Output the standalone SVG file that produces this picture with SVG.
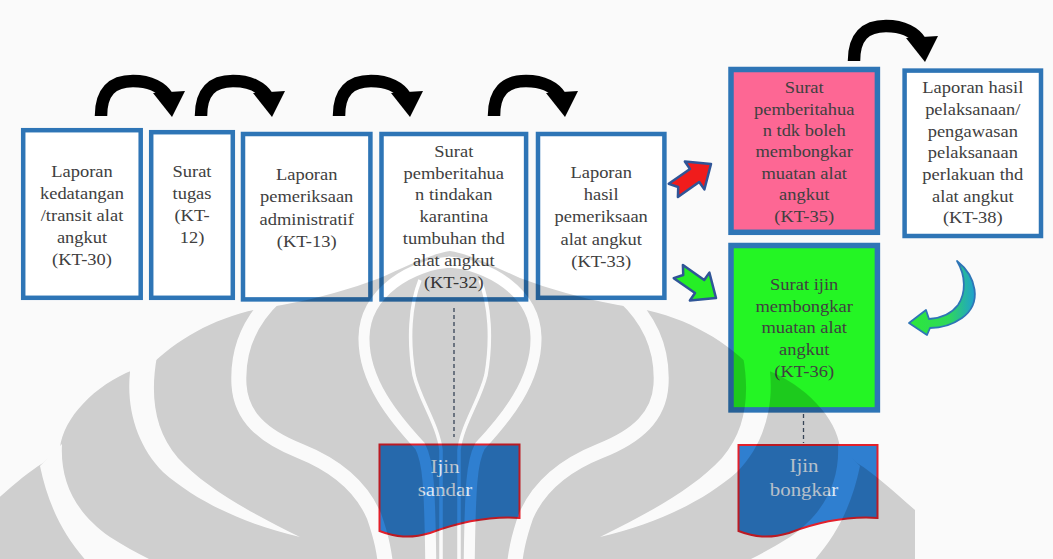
<svg xmlns="http://www.w3.org/2000/svg" xmlns:xlink="http://www.w3.org/1999/xlink" width="1053" height="559" viewBox="0 0 1053 559">
  <style>
    .box { fill:#ffffff; stroke:#2e75b6; stroke-width:4.5; }
    .t { font-size:16.5px; fill:#404040; text-anchor:middle; }
    .dt { font-size:19px; fill:#dde8f5; text-anchor:middle; }
    .doc { fill:#2f7fd0; stroke:#e3202b; stroke-width:2; }
    .dash { fill:none; stroke:#44546a; stroke-width:1.3; stroke-dasharray:4 3; }
    .blk { fill:#f01c1c; stroke:#2f5597; stroke-width:2.5; stroke-linejoin:round; }
    .blkg { fill:#26ee26; stroke:#2f5597; stroke-width:2.5; stroke-linejoin:round; }
  </style>
  <defs>
    <!-- black hop arrow: leg bottom centre at the origin -->
    <g id="hop">
      <path d="M0,0 C0,-24 11,-35 32,-35 C50,-35 61,-28 66,-20" fill="none" stroke="#000" stroke-width="12.5"/>
      <polygon points="52,-23 84,-25 71,1" fill="#000"/>
    </g>
    <!-- notched block arrow, tip at the origin, pointing +x -->
    <polygon id="block" points="0,0 -20,-17 -20,-8 -46,-8 -40,0 -46,8 -20,8 -20,17"/>
    <linearGradient id="curveFill" x1="0" y1="0" x2="1" y2="0">
      <stop offset="0" stop-color="#2be83a"/>
      <stop offset="0.6" stop-color="#2fd85a"/>
      <stop offset="1" stop-color="#1f9fd0"/>
    </linearGradient>
    <!-- emblem watermark: left half, mirrored about x=450 -->
    <mask id="wm" maskUnits="userSpaceOnUse" x="0" y="0" width="1053" height="559">
      <g id="wmHalf">
        <path fill="#fff" d="M450,575 L-15,575 L-15,510 C8,490 25,474 43,463 L60,448 C63,418 95,385 133,370 L150,366 C178,338 220,314 270,307 L282,305 C320,298 350,289 380,278 C405,267 430,254 450,251 Z"/>
        <path fill="#000" d="M40,466 L62,444 C60,480 74,512 110,537 C135,553 160,565 185,575 L100,575 C68,545 49,510 40,466 Z"/>
        <path fill="#000" d="M128,360 L157,356 C150,395 154,430 178,458 C205,487 245,510 300,537 C245,524 197,502 163,472 C138,447 126,410 130,372 Z"/>
        <path fill="none" stroke="#000" stroke-width="15" d="M276,296 C250,320 237,350 239,385 C241,416 262,436 300,451 C335,465 361,486 374,516 C381,536 385,552 387,580"/>
        <path fill="none" stroke="#000" stroke-width="11" d="M452,262 C412,264 365,292 364,337 C363,381 395,419 420,446 C428,461 430,481 431,580"/>
        <path fill="none" stroke="#000" stroke-width="3.5" d="M420,280 C410,305 408,340 414,375 C420,400 438,425 441,450 L441,580"/>
      </g>
      <use xlink:href="#wmHalf" transform="translate(900,0) scale(-1,1)"/>
    </mask>
  </defs>

  <rect x="0" y="0" width="1053" height="559" fill="#fafafa"/>

  <g font-family="'Liberation Serif', 'Times New Roman', serif">
  <!-- process boxes -->
  <g id="n-kt30">
    <rect class="box" x="23.2" y="130.2" width="117.5" height="167.6"/>
    <g transform="translate(82,0) scale(1.12,1)">
      <text class="t" x="0" y="176.7">Laporan</text>
      <text class="t" x="0" y="198.8">kedatangan</text>
      <text class="t" x="0" y="220.9">/transit alat</text>
      <text class="t" x="0" y="243">angkut</text>
      <text class="t" x="0" y="265.1">(KT-30)</text>
    </g>
  </g>
  <g id="n-kt12">
    <rect class="box" x="151.2" y="132.2" width="81.6" height="165.6"/>
    <g transform="translate(192,0) scale(1.12,1)">
      <text class="t" x="0" y="176.7">Surat</text>
      <text class="t" x="0" y="198.8">tugas</text>
      <text class="t" x="0" y="220.9">(KT-</text>
      <text class="t" x="0" y="243">12)</text>
    </g>
  </g>
  <g id="n-kt13">
    <rect class="box" x="243" y="134" width="127.4" height="165.4"/>
    <g transform="translate(306.7,0) scale(1.12,1)">
      <text class="t" x="0" y="180">Laporan</text>
      <text class="t" x="0" y="202.5">pemeriksaan</text>
      <text class="t" x="0" y="225">administratif</text>
      <text class="t" x="0" y="247.5">(KT-13)</text>
    </g>
  </g>
  <g id="n-kt32">
    <rect class="box" x="381.5" y="134" width="144.6" height="165.4"/>
    <g transform="translate(453.8,0) scale(1.12,1)">
      <text class="t" x="0" y="156.7">Surat</text>
      <text class="t" x="0" y="178.6">pemberitahua</text>
      <text class="t" x="0" y="200.5">n tindakan</text>
      <text class="t" x="0" y="222.4">karantina</text>
      <text class="t" x="0" y="244.3">tumbuhan thd</text>
      <text class="t" x="0" y="266.2">alat angkut</text>
      <text class="t" x="0" y="288.1">(KT-32)</text>
    </g>
  </g>
  <g id="n-kt33">
    <rect class="box" x="538" y="134" width="126.4" height="163.8"/>
    <g transform="translate(601.2,0) scale(1.12,1)">
      <text class="t" x="0" y="178.3">Laporan</text>
      <text class="t" x="0" y="200.4">hasil</text>
      <text class="t" x="0" y="222.5">pemeriksaan</text>
      <text class="t" x="0" y="244.6">alat angkut</text>
      <text class="t" x="0" y="266.7">(KT-33)</text>
    </g>
  </g>
  <g id="n-kt35">
    <rect class="box" x="731" y="69.5" width="146.4" height="162.8" style="fill:#fd6794;stroke-width:5.5"/>
    <g transform="translate(804.2,0) scale(1.12,1)">
      <text class="t" x="0" y="93.3">Surat</text>
      <text class="t" x="0" y="114.7">pemberitahua</text>
      <text class="t" x="0" y="136.1">n tdk boleh</text>
      <text class="t" x="0" y="157.5">membongkar</text>
      <text class="t" x="0" y="178.9">muatan alat</text>
      <text class="t" x="0" y="200.3">angkut</text>
      <text class="t" x="0" y="221.7">(KT-35)</text>
    </g>
  </g>
  <g id="n-kt38">
    <rect class="box" x="904.6" y="70.6" width="136.4" height="165.4"/>
    <g transform="translate(972.8,0) scale(1.12,1)">
      <text class="t" x="0" y="93.3">Laporan hasil</text>
      <text class="t" x="0" y="115">pelaksanaan/</text>
      <text class="t" x="0" y="136.6">pengawasan</text>
      <text class="t" x="0" y="158.3">pelaksanaan</text>
      <text class="t" x="0" y="180">perlakuan thd</text>
      <text class="t" x="0" y="201.6">alat angkut</text>
      <text class="t" x="0" y="223.3">(KT-38)</text>
    </g>
  </g>
  <g id="n-kt36">
    <rect class="box" x="731" y="245.5" width="146.4" height="164.4" style="fill:#24f524;stroke-width:5.5"/>
    <g transform="translate(804.2,0) scale(1.12,1)">
      <text class="t" x="0" y="290">Surat ijin</text>
      <text class="t" x="0" y="311.7">membongkar</text>
      <text class="t" x="0" y="333.4">muatan alat</text>
      <text class="t" x="0" y="355.1">angkut</text>
      <text class="t" x="0" y="376.8">(KT-36)</text>
    </g>
  </g>

  <!-- output documents -->
  <g id="d-sandar">
    <path class="doc" d="M379.5,444.5 L519.5,444.5 L519.5,518 C490,516 460,522 430,533 C410,539 395,537 379.5,531 Z"/>
    <g transform="translate(445,0) scale(1.1,1)">
      <text class="dt" x="0" y="473">Ijin</text>
      <text class="dt" x="0" y="496.5">sandar</text>
    </g>
  </g>
  <g id="d-bongkar">
    <path class="doc" d="M738.5,445 L877.5,445 L877.5,518 C848,516 818,522 789,533 C769,539 754,537 738.5,531 Z"/>
    <g transform="translate(804,0) scale(1.1,1)">
      <text class="dt" x="0" y="472">Ijin</text>
      <text class="dt" x="0" y="496.5">bongkar</text>
    </g>
  </g>
  </g>

  <!-- connectors -->
  <g id="connectors">
    <use xlink:href="#hop" transform="translate(101,116)"/>
    <use xlink:href="#hop" transform="translate(201,116)"/>
    <use xlink:href="#hop" transform="translate(339,116)"/>
    <use xlink:href="#hop" transform="translate(494,116)"/>
    <use xlink:href="#hop" transform="translate(854,61)"/>
    <use xlink:href="#block" class="blk" transform="translate(711,164) rotate(-35)"/>
    <use xlink:href="#block" class="blkg" transform="translate(716,298) rotate(35)"/>
    <path d="M957,261 C976,276 983,303 962,318 C952,325 940,328 930,328 L927,335 L909,323 L926,310 L929,319 C942,318 952,313 958,305 C966,293 966,276 957,261 Z" fill="url(#curveFill)" stroke="#2e75b6" stroke-width="1.8" stroke-linejoin="round"/>
    <line class="dash" x1="454" y1="308" x2="454" y2="437"/>
    <line class="dash" x1="803.5" y1="414" x2="803.5" y2="443"/>
  </g>

  <!-- faint emblem over the whole sheet -->
  <g id="watermark">
    <rect x="0" y="0" width="1053" height="559" fill="#000" opacity="0.17" mask="url(#wm)"/>
  </g>
</svg>
